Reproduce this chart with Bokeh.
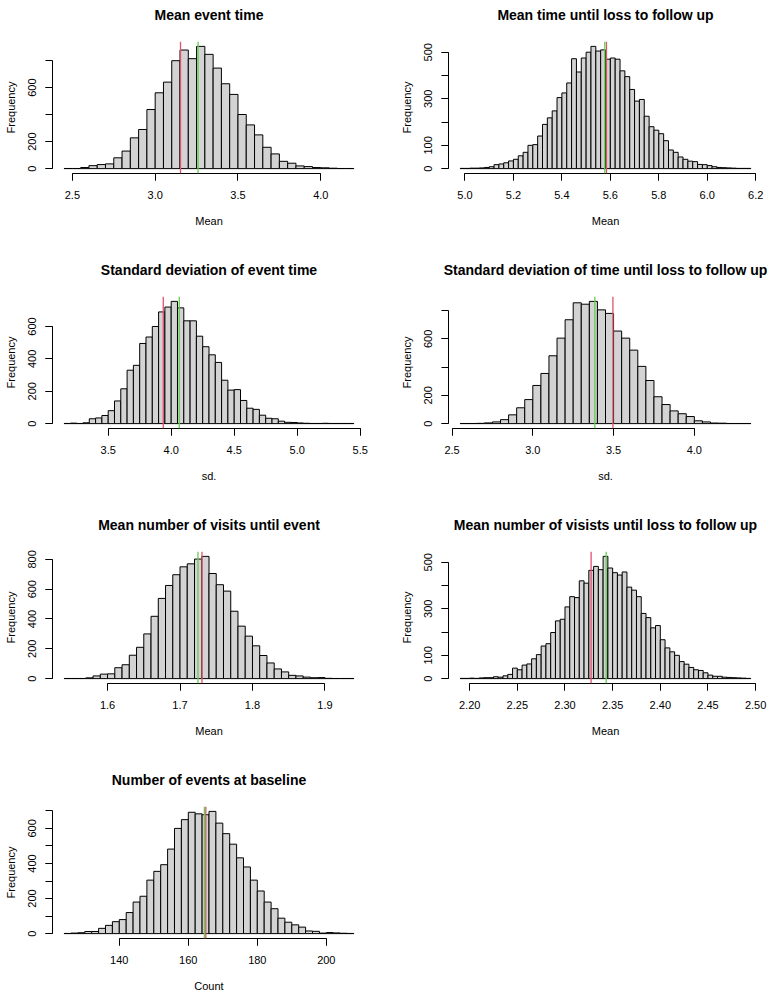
from bokeh.plotting import figure
from bokeh.layouts import gridplot
from bokeh.models import Range1d, FixedTicker, Span, LinearAxis
from bokeh.embed import file_html
from bokeh.resources import INLINE

FONT = "Liberation Sans"
RED = "#DF536B"
GREEN = "#61D04F"

# ---------------- data ----------------
titles = ["Mean event time",
          "Mean time until loss to follow up",
          "Standard deviation of event time",
          "Standard deviation of time until loss to follow up",
          "Mean number of visits until event",
          "Mean number of visists until loss to follow up",
          "Number of events at baseline"]
xlabels = ["Mean", "Mean", "sd.", "sd.", "Mean", "Mean", "Count"]

# panel 1
p1_start, p1_width = 2.45, 0.05
p1_counts = [1, 1, 8, 22, 30, 35, 80, 130, 228, 290, 438, 562, 641, 800, 879,
             815, 906, 847, 745, 629, 550, 401, 324, 250, 158, 109, 54, 40, 20,
             15, 8, 6, 3, 1, 1]
p1_red, p1_green = 3.153, 3.259
p1_xticks = [2.5, 3.0, 3.5, 4.0]
p1_xlabels = ["2.5", "3.0", "3.5", "4.0"]
p1_yticks = [0, 200, 400, 600, 800]
p1_ylabeled = [0, 200, 600]

# panel 2
p2_start, p2_width = 4.98, 0.02
p2_counts = [1, 1, 2, 2, 3, 5, 8, 17, 20, 25, 33, 40, 55, 70, 100, 103, 140, 190,
             218, 248, 305, 325, 368, 472, 415, 475, 500, 525, 505, 510, 470, 475,
             470, 420, 395, 340, 290, 297, 225, 180, 165, 150, 120, 80, 70, 50, 40,
             32, 30, 18, 17, 13, 8, 5, 4, 3, 2, 1, 1, 1]
p2_red, p2_green = 5.584, 5.577
p2_xticks = [5.0, 5.2, 5.4, 5.6, 5.8, 6.0, 6.2]
p2_xlabels = ["5.0", "5.2", "5.4", "5.6", "5.8", "6.0", "6.2"]
p2_yticks = [0, 100, 200, 300, 400, 500]
p2_ylabeled = [0, 100, 300, 500]

# panel 3
p3_start, p3_width = 3.15, 0.05
p3_counts = [1, 3, 1, 5, 30, 35, 50, 80, 140, 215, 330, 360, 495, 535, 600, 690,
             720, 755, 715, 635, 635, 540, 475, 425, 378, 268, 207, 210, 143, 95,
             88, 52, 33, 30, 15, 8, 7, 4, 2, 1, 1, 2, 1, 1, 1, 1]
p3_red, p3_green = 3.937, 4.064
p3_xticks = [3.5, 4.0, 4.5, 5.0, 5.5]
p3_xlabels = ["3.5", "4.0", "4.5", "5.0", "5.5"]
p3_yticks = [0, 200, 400, 600]
p3_ylabeled = [0, 200, 400, 600]

# panel 4
p4_start, p4_width = 2.55, 0.05
p4_counts = [1, 1, 2, 5, 12, 28, 62, 112, 170, 270, 355, 480, 605, 735, 855, 845,
             865, 805, 780, 655, 605, 520, 405, 305, 190, 135, 90, 70, 50, 20, 12,
             4, 3, 1, 1, 1]
p4_red, p4_green = 3.496, 3.384
p4_xticks = [2.5, 3.0, 3.5, 4.0]
p4_xlabels = ["2.5", "3.0", "3.5", "4.0"]
p4_yticks = [0, 200, 400, 600, 800]
p4_ylabeled = [0, 200, 600]

# panel 5
p5_start, p5_width = 1.54, 0.01
p5_counts = [1, 1, 1, 5, 18, 30, 32, 73, 93, 157, 210, 300, 418, 538, 625, 697,
             750, 770, 802, 820, 705, 630, 587, 452, 352, 285, 220, 155, 105, 65,
             45, 22, 18, 10, 6, 7, 2, 1, 1, 1]
p5_red, p5_green = 1.7303, 1.7248
p5_xticks = [1.6, 1.7, 1.8, 1.9]
p5_xlabels = ["1.6", "1.7", "1.8", "1.9"]
p5_yticks = [0, 200, 400, 600, 800]
p5_ylabeled = [0, 200, 400, 600, 800]

# panel 6
p6_start, p6_width = 2.19, 0.005
p6_counts = [1, 1, 2, 1, 3, 4, 4, 8, 6, 12, 18, 45, 38, 58, 63, 85, 103, 140, 150,
             198, 248, 255, 308, 352, 348, 420, 410, 465, 482, 468, 525, 475, 455,
             445, 458, 393, 380, 352, 280, 262, 218, 228, 167, 132, 115, 100, 73,
             62, 48, 38, 35, 25, 15, 10, 10, 6, 5, 4, 3, 2, 1]
p6_red, p6_green = 2.3274, 2.3432
p6_xticks = [2.20, 2.25, 2.30, 2.35, 2.40, 2.45, 2.50]
p6_xlabels = ["2.20", "2.25", "2.30", "2.35", "2.40", "2.45", "2.50"]
p6_yticks = [0, 100, 200, 300, 400, 500]
p6_ylabeled = [0, 100, 300, 500]

# panel 7
p7_start, p7_width = 124, 2
p7_counts = [1, 3, 5, 12, 12, 30, 47, 68, 80, 120, 180, 213, 305, 355, 393, 482,
             600, 650, 692, 683, 678, 697, 630, 570, 510, 432, 380, 305, 243, 180,
             142, 88, 65, 50, 37, 15, 13, 3, 6, 4, 2, 1]
p7_red, p7_green = 165.08, 164.67
p7_xticks = [140, 160, 180, 200]
p7_xlabels = ["140", "160", "180", "200"]
p7_yticks = [0, 100, 200, 300, 400, 500, 600, 700]
p7_ylabeled = [0, 200, 400, 600]

panels = [
    (p1_start, p1_width, p1_counts, p1_red, p1_green, p1_xticks, p1_xlabels, p1_yticks, p1_ylabeled),
    (p2_start, p2_width, p2_counts, p2_red, p2_green, p2_xticks, p2_xlabels, p2_yticks, p2_ylabeled),
    (p3_start, p3_width, p3_counts, p3_red, p3_green, p3_xticks, p3_xlabels, p3_yticks, p3_ylabeled),
    (p4_start, p4_width, p4_counts, p4_red, p4_green, p4_xticks, p4_xlabels, p4_yticks, p4_ylabeled),
    (p5_start, p5_width, p5_counts, p5_red, p5_green, p5_xticks, p5_xlabels, p5_yticks, p5_ylabeled),
    (p6_start, p6_width, p6_counts, p6_red, p6_green, p6_xticks, p6_xlabels, p6_yticks, p6_ylabeled),
    (p7_start, p7_width, p7_counts, p7_red, p7_green, p7_xticks, p7_xlabels, p7_yticks, p7_ylabeled),
]

# ---------------- layout ----------------
COL_W = [396, 375]
COL_LEFT = [52, 52]
FRAME_W = [313, 314]
ROW_H = [255, 255, 255, 229]
TOP = 41
FRAME_H = 132


def style_axis(ax):
    ax.minor_tick_in = 0
    ax.minor_tick_out = 7
    ax.minor_tick_line_color = "black"
    ax.major_tick_in = 0
    ax.major_tick_out = 7
    ax.major_tick_line_color = "black"
    ax.axis_line_color = "black"
    ax.major_label_text_font = FONT
    ax.major_label_text_font_size = "11px"
    ax.major_label_text_color = "black"
    ax.axis_label_text_font = FONT
    ax.axis_label_text_font_size = "11px"
    ax.axis_label_text_font_style = "normal"
    ax.axis_label_text_color = "black"


def make_panel(idx):
    start, width, counts, red, green, xt, xl, yt, ylab = panels[idx]
    row, col = divmod(idx, 2)
    n = len(counts)
    left = [start + width * i for i in range(n)]
    right = [start + width * (i + 1) for i in range(n)]
    x0, x1 = left[0], right[-1]
    xr = x1 - x0
    ymax = max(counts)

    W = COL_W[col]
    H = ROW_H[row]
    p = figure(width=W, height=H, output_backend="svg", toolbar_location=None,
               x_range=Range1d(x0 - 0.04 * xr, x1 + 0.04 * xr),
               y_range=Range1d(-0.04 * ymax, 1.04 * ymax),
               min_border_left=COL_LEFT[col],
               min_border_right=W - COL_LEFT[col] - FRAME_W[col],
               min_border_top=TOP,
               min_border_bottom=H - TOP - FRAME_H,
               title_location=None)
    p.outline_line_color = None
    p.xgrid.visible = False
    p.ygrid.visible = False
    p.background_fill_color = "white"

    # main title, drawn as the label of a tick-less axis above the plot region
    tax = LinearAxis(ticker=FixedTicker(ticks=[]), axis_label=titles[idx],
                     axis_line_color=None, major_tick_line_color=None,
                     minor_tick_line_color=None, major_tick_out=0, major_tick_in=0,
                     minor_tick_out=0, minor_tick_in=0, major_label_standoff=0,
                     axis_label_standoff=19, axis_label_text_font=FONT,
                     axis_label_text_font_size="14px",
                     axis_label_text_font_style="bold",
                     axis_label_text_color="black")
    p.add_layout(tax, "above")

    p.quad(left=left, right=right, bottom=0, top=counts,
           fill_color="#D3D3D3", line_color="black", line_width=1)

    p.add_layout(Span(location=red, dimension="height", line_color=RED, line_width=1.3))
    p.add_layout(Span(location=green, dimension="height", line_color=GREEN, line_width=1.3))

    xa = p.below[0]
    ya = p.left[0]
    style_axis(xa)
    style_axis(ya)

    xa.ticker = FixedTicker(ticks=xt, minor_ticks=xt)
    xa.major_label_overrides = dict(zip(xt, xl))
    xa.bounds = (xt[0], xt[-1])
    xa.axis_label = xlabels[idx]
    xa.major_label_standoff = 10
    xa.axis_label_standoff = 13

    ya.ticker = FixedTicker(ticks=ylab, minor_ticks=yt)
    ya.bounds = (yt[0], yt[-1])
    ya.axis_label = "Frequency"
    ya.major_label_orientation = "vertical"
    ya.major_label_standoff = 9
    ya.axis_label_standoff = 9
    return p


figs = [make_panel(i) for i in range(7)]
grid = gridplot([[figs[0], figs[1]], [figs[2], figs[3]], [figs[4], figs[5]], [figs[6], None]],
                toolbar_location=None)

open("out.html", "w").write(file_html(grid, INLINE))
